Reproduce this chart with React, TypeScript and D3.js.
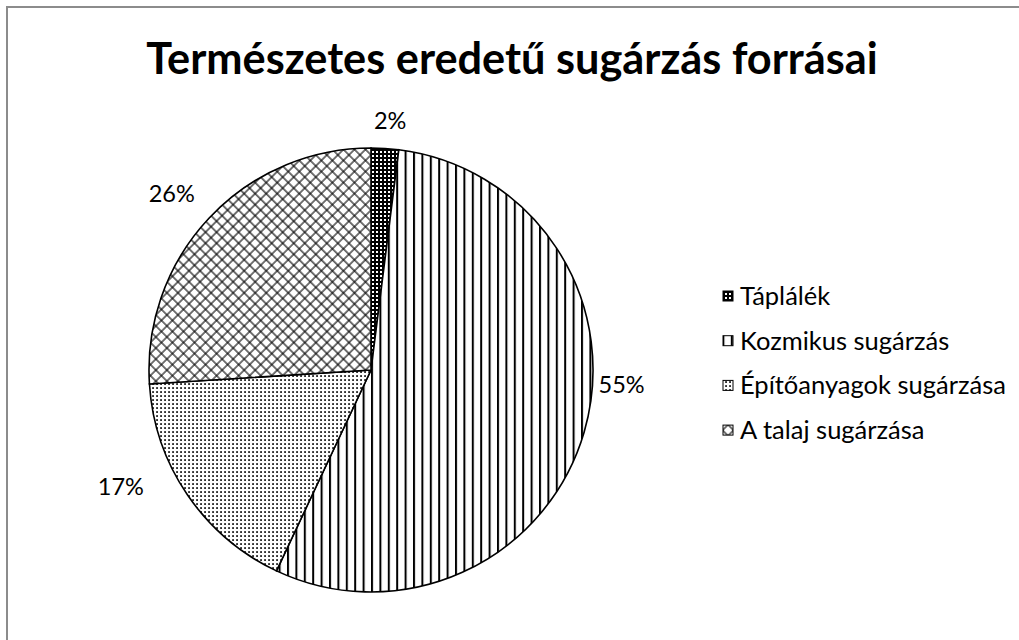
import React from "react";
import * as d3 from "d3";

const categories = ["Táplálék", "Kozmikus sugárzás", "Építőanyagok sugárzása", "A talaj sugárzása"];
const values = [2, 55, 17, 26];
const valueLabels = ["2%", "55%", "17%", "26%"];
const patternIds = ["pFood", "pCosmic", "pBuild", "pSoil"];
const titleText = "Természetes eredetű sugárzás forrásai";

// label placement (polar, degrees clockwise from top, radius) — layout only
const labelPolar = [
  { a: 4.4, r: 250 },
  { a: 93.4, r: 251 },
  { a: 245, r: 276 },
  { a: 311.5, r: 266 },
];

const W = 1019;
const H = 640;
const cx = 371;
const cy = 370;
const R = 222;
const FONT = "Lato, 'Open Sans', sans-serif";

export default function App() {
  const pie = d3.pie<number>().sort(null).value((d) => d);
  const arcs = pie(values);
  const arc = d3.arc<d3.PieArcDatum<number>>().innerRadius(0).outerRadius(R);

  const legendX = 723;
  const legendY0 = 296;
  const legendStep = 44.7;

  return (
    <svg
      width={W}
      height={H}
      style={{ position: "absolute", left: 0, top: 0, background: "#fff" }}
    >
      <defs>
        <pattern id="pFood" width={4} height={4} patternUnits="userSpaceOnUse">
          <rect width={4} height={4} fill="#000" />
          <rect x={1} y={1} width={2} height={2} fill="#fff" />
        </pattern>
        <pattern id="pCosmic" width={8.4} height={8} patternUnits="userSpaceOnUse">
          <rect width={8.4} height={8} fill="#fff" />
          <rect x={0} y={0} width={2} height={8} fill="#000" />
        </pattern>
        <pattern id="pBuild" width={4} height={4} patternUnits="userSpaceOnUse">
          <rect width={4} height={4} fill="#fff" />
          <rect x={1.2} y={1.2} width={1.7} height={1.7} fill="#000" />
        </pattern>
        <pattern
          id="pSoil"
          width={7.8}
          height={7.8}
          patternUnits="userSpaceOnUse"
          patternTransform="rotate(45)"
        >
          <rect width={7.8} height={7.8} fill="#fff" />
          <rect x={3.4} y={0} width={1.1} height={7.8} fill="#000" />
          <rect x={0} y={3.4} width={7.8} height={1.1} fill="#000" />
        </pattern>
      </defs>

      <rect x={7} y={7} width={W + 20} height={H + 20} fill="#fff" stroke="#8c8c8c" strokeWidth={2} />

      <text
        x={512}
        y={74}
        textAnchor="middle"
        fontFamily={FONT}
        fontWeight="bold"
        fontSize={43.3}
        fill="#000"
      >
        {titleText}
      </text>

      <g transform={`translate(${cx},${cy})`}>
        {arcs.map((a, i) => (
          <path
            key={i}
            d={arc(a) || ""}
            fill={`url(#${patternIds[i]})`}
            stroke="#000"
            strokeWidth={1.6}
          />
        ))}
        {arcs.map((a, i) => {
          const p = labelPolar[i];
          const rad = (p.a * Math.PI) / 180;
          return (
            <text
              key={"l" + i}
              x={p.r * Math.sin(rad)}
              y={-p.r * Math.cos(rad)}
              dy="0.35em"
              textAnchor="middle"
              fontFamily={FONT}
              fontSize={23.5}
              fill="#000"
            >
              {valueLabels[i]}
            </text>
          );
        })}
      </g>

      <g>
        {categories.map((c, i) => {
          const y = legendY0 + i * legendStep;
          return (
            <g key={c}>
              <rect
                x={legendX}
                y={y - 5}
                width={10}
                height={10}
                fill={`url(#${patternIds[i]})`}
                stroke="#000"
                strokeWidth={1}
              />
              <text
                x={legendX + 17}
                y={y}
                dy="0.35em"
                fontFamily={FONT}
                fontSize={25.5}
                fill="#000"
              >
                {c}
              </text>
            </g>
          );
        })}
      </g>
    </svg>
  );
}
